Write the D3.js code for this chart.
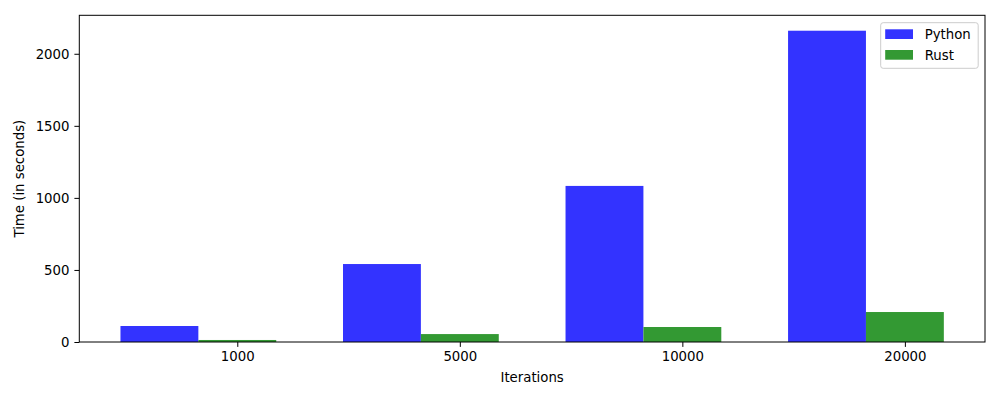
<!DOCTYPE html>
<html>
<head>
<meta charset="utf-8">
<script src="https://cdn.jsdelivr.net/npm/d3@7"></script>
<style>
  body { margin: 0; background: #fff; }
  text { font-family: "DejaVu Sans", sans-serif; }
</style>
</head>
<body>
<div id="chart"></div>
<script>
// data
const iterations = ["1000", "5000", "10000", "20000"];
const pythonTimes = [111, 541, 1083, 2160];
const rustTimes = [14, 55, 104, 208];
const seriesNames = ["Python", "Rust"];
const seriesColors = ["#3333ff", "#339933"];
const yTicks = [0, 500, 1000, 1500, 2000];

const margin = {top: 15.3, right: 15, bottom: 58, left: 79.3};
const width = 1000 - margin.left - margin.right;
const height = 400 - margin.top - margin.bottom;
const barWidth = 0.35;

const svg = d3.select("#chart")
    .append("svg")
    .attr("width", 1000)
    .attr("height", 400)
    .append("g")
    .attr("transform", `translate(${margin.left}, ${margin.top})`);

// x is the group index, like matplotlib's arange
const x = d3.scaleLinear()
    .domain([-0.36, 3.71])
    .range([0, width]);

const y = d3.scaleLinear()
    .domain([0, 2267])
    .range([height, 0]);

const series = [pythonTimes, rustTimes];

series.forEach(function (values, s) {
    svg.append("g")
        .selectAll("rect")
        .data(values)
        .enter()
        .append("rect")
        .attr("x", (d, i) => x(i + s * barWidth - barWidth / 2))
        .attr("width", x(barWidth) - x(0))
        .attr("y", d => y(d))
        .attr("height", d => y(0) - y(d))
        .attr("fill", seriesColors[s]);
});

// axes
const xAxis = d3.axisBottom(x)
    .tickValues(iterations.map((d, i) => i + barWidth))
    .tickFormat((d, i) => iterations[i])
    .tickSize(4.9)
    .tickPadding(4.9);

const yAxis = d3.axisLeft(y)
    .tickValues(yTicks)
    .tickFormat(d3.format("d"))
    .tickSize(4.9)
    .tickPadding(4.9);

const gx = svg.append("g")
    .attr("transform", `translate(0, ${height})`)
    .call(xAxis);

const gy = svg.append("g").call(yAxis);

[gx, gy].forEach(function (g) {
    g.select(".domain").remove();
    g.selectAll("line").attr("stroke", "#000").attr("stroke-width", 1);
    g.selectAll("text")
        .attr("fill", "#000")
        .style("font-size", "13.3px")
        .style("font-family", "DejaVu Sans, sans-serif");
});

// frame
svg.append("rect")
    .attr("x", 0)
    .attr("y", 0)
    .attr("width", width)
    .attr("height", height)
    .attr("fill", "none")
    .attr("stroke", "#000")
    .attr("stroke-width", 1);

// axis labels
svg.append("text")
    .attr("x", width / 2)
    .attr("y", height + 40)
    .attr("text-anchor", "middle")
    .style("font-size", "13.3px")
    .text("Iterations");

svg.append("text")
    .attr("transform", "rotate(-90)")
    .attr("x", -height / 2)
    .attr("y", -55)
    .attr("text-anchor", "middle")
    .style("font-size", "13.3px")
    .text("Time (in seconds)");

// legend
const legend = svg.append("g")
    .attr("transform", `translate(${880.7 - margin.left}, ${22.7 - margin.top})`);

legend.append("rect")
    .attr("width", 97.5)
    .attr("height", 45.6)
    .attr("rx", 2.5)
    .attr("fill", "#fff")
    .attr("fill-opacity", 0.8)
    .attr("stroke", "#cccccc")
    .attr("stroke-width", 1);

seriesNames.forEach(function (name, i) {
    legend.append("rect")
        .attr("x", 4.5)
        .attr("y", 6.6 + i * 20.7)
        .attr("width", 27.8)
        .attr("height", 9.7)
        .attr("fill", seriesColors[i]);
    legend.append("text")
        .attr("x", 44)
        .attr("y", 11.5 + i * 20.7)
        .attr("dy", "0.35em")
        .style("font-size", "13.3px")
        .text(name);
});
</script>
</body>
</html>
